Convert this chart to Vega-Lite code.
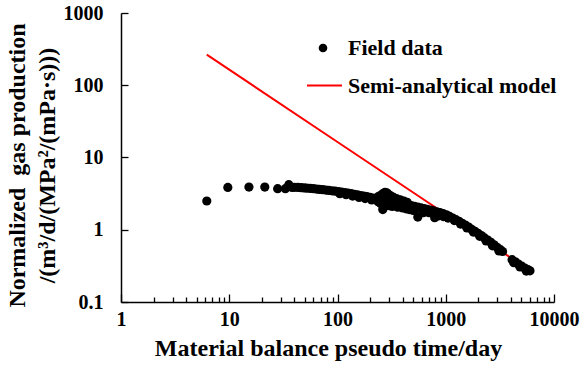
{
  "$schema": "https://vega.github.io/schema/vega-lite/v6.json",
  "width": 433,
  "height": 289,
  "autosize": {"type": "none"},
  "padding": {"left": 121, "top": 13, "right": 28, "bottom": 65},
  "background": "white",
  "config": {
    "view": {"stroke": null},
    "font": "Liberation Serif",
    "axis": {
      "grid": false,
      "domainColor": "#000",
      "domainWidth": 1.5,
      "tickColor": "#000",
      "tickWidth": 1.3,
      "labelFont": "Liberation Serif",
      "labelFontWeight": "bold",
      "labelFontSize": 20,
      "labelColor": "#000",
      "titleFont": "Liberation Serif",
      "titleFontWeight": "bold",
      "titleFontSize": 24,
      "titleColor": "#000"
    },
    "legend": {
      "labelFont": "Liberation Serif",
      "labelFontWeight": "bold",
      "labelFontSize": 22,
      "labelColor": "#000",
      "labelLimit": 400,
      "padding": 0,
      "title": null
    }
  },
  "datasets": {
    "field": [
      {"t": 6.2, "q": 2.5, "series": "Field data"},
      {"t": 9.7, "q": 3.85, "series": "Field data"},
      {"t": 15.2, "q": 3.9, "series": "Field data"},
      {"t": 21.3, "q": 3.9, "series": "Field data"},
      {"t": 28, "q": 3.7, "series": "Field data"},
      {"t": 33, "q": 3.7, "series": "Field data"},
      {"t": 35.5, "q": 4.2, "series": "Field data"},
      {"t": 38, "q": 3.85, "series": "Field data"},
      {"t": 40, "q": 3.87, "series": "Field data"},
      {"t": 43, "q": 3.85, "series": "Field data"},
      {"t": 46, "q": 3.82, "series": "Field data"},
      {"t": 49, "q": 3.79, "series": "Field data"},
      {"t": 52, "q": 3.76, "series": "Field data"},
      {"t": 56, "q": 3.73, "series": "Field data"},
      {"t": 60, "q": 3.7, "series": "Field data"},
      {"t": 64, "q": 3.66, "series": "Field data"},
      {"t": 68, "q": 3.62, "series": "Field data"},
      {"t": 73, "q": 3.58, "series": "Field data"},
      {"t": 78, "q": 3.54, "series": "Field data"},
      {"t": 83, "q": 3.5, "series": "Field data"},
      {"t": 89, "q": 3.46, "series": "Field data"},
      {"t": 95, "q": 3.42, "series": "Field data"},
      {"t": 102, "q": 3.37, "series": "Field data"},
      {"t": 109, "q": 3.32, "series": "Field data"},
      {"t": 117, "q": 3.27, "series": "Field data"},
      {"t": 125, "q": 3.21, "series": "Field data"},
      {"t": 134, "q": 3.16, "series": "Field data"},
      {"t": 143, "q": 3.1, "series": "Field data"},
      {"t": 153, "q": 3.04, "series": "Field data"},
      {"t": 164, "q": 2.98, "series": "Field data"},
      {"t": 175, "q": 2.93, "series": "Field data"},
      {"t": 187, "q": 2.87, "series": "Field data"},
      {"t": 200, "q": 2.8, "series": "Field data"},
      {"t": 214, "q": 2.74, "series": "Field data"},
      {"t": 229, "q": 2.68, "series": "Field data"},
      {"t": 245, "q": 2.63, "series": "Field data"},
      {"t": 262, "q": 2.57, "series": "Field data"},
      {"t": 280, "q": 2.53, "series": "Field data"},
      {"t": 300, "q": 2.49, "series": "Field data"},
      {"t": 321, "q": 2.43, "series": "Field data"},
      {"t": 343, "q": 2.38, "series": "Field data"},
      {"t": 367, "q": 2.34, "series": "Field data"},
      {"t": 393, "q": 2.29, "series": "Field data"},
      {"t": 420, "q": 2.24, "series": "Field data"},
      {"t": 450, "q": 2.19, "series": "Field data"},
      {"t": 481, "q": 2.15, "series": "Field data"},
      {"t": 515, "q": 2.1, "series": "Field data"},
      {"t": 551, "q": 2.06, "series": "Field data"},
      {"t": 590, "q": 2.01, "series": "Field data"},
      {"t": 631, "q": 1.96, "series": "Field data"},
      {"t": 675, "q": 1.91, "series": "Field data"},
      {"t": 722, "q": 1.87, "series": "Field data"},
      {"t": 773, "q": 1.82, "series": "Field data"},
      {"t": 827, "q": 1.77, "series": "Field data"},
      {"t": 885, "q": 1.73, "series": "Field data"},
      {"t": 947, "q": 1.67, "series": "Field data"},
      {"t": 1013, "q": 1.61, "series": "Field data"},
      {"t": 1084, "q": 1.53, "series": "Field data"},
      {"t": 1160, "q": 1.45, "series": "Field data"},
      {"t": 1241, "q": 1.38, "series": "Field data"},
      {"t": 1328, "q": 1.31, "series": "Field data"},
      {"t": 1421, "q": 1.23, "series": "Field data"},
      {"t": 1520, "q": 1.16, "series": "Field data"},
      {"t": 1627, "q": 1.09, "series": "Field data"},
      {"t": 1741, "q": 1.01, "series": "Field data"},
      {"t": 1862, "q": 0.95, "series": "Field data"},
      {"t": 1993, "q": 0.89, "series": "Field data"},
      {"t": 2132, "q": 0.83, "series": "Field data"},
      {"t": 2282, "q": 0.77, "series": "Field data"},
      {"t": 2441, "q": 0.72, "series": "Field data"},
      {"t": 2612, "q": 0.67, "series": "Field data"},
      {"t": 2795, "q": 0.62, "series": "Field data"},
      {"t": 2991, "q": 0.57, "series": "Field data"},
      {"t": 3200, "q": 0.53, "series": "Field data"},
      {"t": 3350, "q": 0.5, "series": "Field data"},
      {"t": 4100, "q": 0.385, "series": "Field data"},
      {"t": 4390, "q": 0.36, "series": "Field data"},
      {"t": 4690, "q": 0.335, "series": "Field data"},
      {"t": 5020, "q": 0.315, "series": "Field data"},
      {"t": 5370, "q": 0.295, "series": "Field data"},
      {"t": 5750, "q": 0.28, "series": "Field data"},
      {"t": 6000, "q": 0.27, "series": "Field data"},
      {"t": 105, "q": 3.15, "series": "Field data"},
      {"t": 120, "q": 3.05, "series": "Field data"},
      {"t": 138, "q": 2.93, "series": "Field data"},
      {"t": 158, "q": 2.8, "series": "Field data"},
      {"t": 180, "q": 2.7, "series": "Field data"},
      {"t": 207, "q": 2.58, "series": "Field data"},
      {"t": 237, "q": 2.45, "series": "Field data"},
      {"t": 271, "q": 2.38, "series": "Field data"},
      {"t": 310, "q": 2.3, "series": "Field data"},
      {"t": 355, "q": 2.2, "series": "Field data"},
      {"t": 405, "q": 2.12, "series": "Field data"},
      {"t": 465, "q": 2.03, "series": "Field data"},
      {"t": 533, "q": 1.95, "series": "Field data"},
      {"t": 610, "q": 1.87, "series": "Field data"},
      {"t": 700, "q": 1.8, "series": "Field data"},
      {"t": 800, "q": 1.7, "series": "Field data"},
      {"t": 915, "q": 1.62, "series": "Field data"},
      {"t": 1050, "q": 1.5, "series": "Field data"},
      {"t": 1200, "q": 1.34, "series": "Field data"},
      {"t": 1370, "q": 1.2, "series": "Field data"},
      {"t": 1570, "q": 1.06, "series": "Field data"},
      {"t": 1800, "q": 0.93, "series": "Field data"},
      {"t": 2060, "q": 0.81, "series": "Field data"},
      {"t": 2360, "q": 0.7, "series": "Field data"},
      {"t": 2700, "q": 0.6, "series": "Field data"},
      {"t": 3100, "q": 0.51, "series": "Field data"},
      {"t": 4250, "q": 0.35, "series": "Field data"},
      {"t": 4850, "q": 0.305, "series": "Field data"},
      {"t": 5550, "q": 0.268, "series": "Field data"},
      {"t": 240, "q": 2.9, "series": "Field data"},
      {"t": 255, "q": 3.05, "series": "Field data"},
      {"t": 265, "q": 3.2, "series": "Field data"},
      {"t": 275, "q": 3.3, "series": "Field data"},
      {"t": 285, "q": 3.25, "series": "Field data"},
      {"t": 295, "q": 3.1, "series": "Field data"},
      {"t": 310, "q": 2.95, "series": "Field data"},
      {"t": 330, "q": 2.8, "series": "Field data"},
      {"t": 350, "q": 2.7, "series": "Field data"},
      {"t": 380, "q": 2.6, "series": "Field data"},
      {"t": 410, "q": 2.5, "series": "Field data"},
      {"t": 440, "q": 2.4, "series": "Field data"},
      {"t": 250, "q": 2.3, "series": "Field data"},
      {"t": 262, "q": 1.9, "series": "Field data"},
      {"t": 270, "q": 2.1, "series": "Field data"},
      {"t": 285, "q": 2.2, "series": "Field data"},
      {"t": 300, "q": 2.15, "series": "Field data"},
      {"t": 320, "q": 2.1, "series": "Field data"},
      {"t": 360, "q": 2.05, "series": "Field data"},
      {"t": 400, "q": 2.0, "series": "Field data"},
      {"t": 430, "q": 1.95, "series": "Field data"},
      {"t": 460, "q": 1.9, "series": "Field data"},
      {"t": 500, "q": 1.85, "series": "Field data"},
      {"t": 552, "q": 1.5, "series": "Field data"},
      {"t": 620, "q": 1.72, "series": "Field data"},
      {"t": 700, "q": 1.72, "series": "Field data"},
      {"t": 790, "q": 1.47, "series": "Field data"},
      {"t": 850, "q": 1.55, "series": "Field data"},
      {"t": 950, "q": 1.52, "series": "Field data"},
      {"t": 1050, "q": 1.45, "series": "Field data"}
    ],
    "model": [
      {"t": 6.2, "q": 265, "series": "Semi-analytical model"},
      {"t": 100, "q": 16.4, "series": "Semi-analytical model"},
      {"t": 1000, "q": 1.64, "series": "Semi-analytical model"},
      {"t": 6000, "q": 0.272, "series": "Semi-analytical model"}
    ]
  },
  "encoding": {
    "x": {
      "field": "t",
      "type": "quantitative",
      "scale": {"type": "log", "domain": [1, 10000], "nice": false},
      "axis": {
        "title": "Material balance pseudo time/day",
        "titleX": 207,
        "titleAlign": "center",
        "titlePadding": 4,
        "values": [1, 2, 3, 4, 5, 6, 7, 8, 9, 10, 20, 30, 40, 50, 60, 70, 80, 90, 100, 200, 300, 400, 500, 600, 700, 800, 900, 1000, 2000, 3000, 4000, 5000, 6000, 7000, 8000, 9000, 10000],
        "labelExpr": "indexof([1, 10, 100, 1000, 10000], datum.value) >= 0 ? format(datum.value, 'd') : ''",
        "tickSize": {"condition": {"test": "indexof([1, 10, 100, 1000, 10000], datum.value) >= 0", "value": -8}, "value": -5},
        "labelPadding": 15,
        "labelOverlap": false,
        "labelFlush": false
      }
    },
    "y": {
      "field": "q",
      "type": "quantitative",
      "scale": {"type": "log", "domain": [0.1, 1000], "nice": false},
      "axis": {
        "title": ["Normalized\u00a0 gas production", "/(m³/d/(MPa²/(mPa·s)))"],
        "titleLineHeight": 30,
        "titlePadding": 4,
        "titleY": 152,
        "values": [0.1, 1, 10, 100, 1000],
        "labelExpr": "datum.value < 1 ? '0.1' : format(datum.value, 'd')",
        "tickSize": -7,
        "labelPadding": 25,
        "labelOverlap": false,
        "labelFlush": false
      }
    }
  },
  "layer": [
    {
      "data": {"name": "model"},
      "mark": {"type": "line", "strokeWidth": 2},
      "encoding": {
        "color": {
          "field": "series",
          "type": "nominal",
          "scale": {"domain": ["Semi-analytical model"], "range": ["#ff0000"]},
          "legend": {
            "orient": "none",
            "legendX": 185,
            "legendY": 54,
            "symbolType": "stroke",
            "symbolSize": 1225,
            "symbolStrokeWidth": 2,
            "labelOffset": 5
          }
        }
      }
    },
    {
      "data": {"name": "field"},
      "mark": {"type": "point", "filled": true, "size": 85, "color": "#000", "opacity": 1, "strokeWidth": 0},
      "encoding": {
        "shape": {
          "field": "series",
          "type": "nominal",
          "scale": {"domain": ["Field data"], "range": ["circle"]},
          "legend": {
            "orient": "none",
            "legendX": 191,
            "legendY": 24,
            "symbolSize": 75,
            "symbolFillColor": "#000",
            "symbolStrokeWidth": 0,
            "labelOffset": 14
          }
        }
      }
    }
  ]
}
